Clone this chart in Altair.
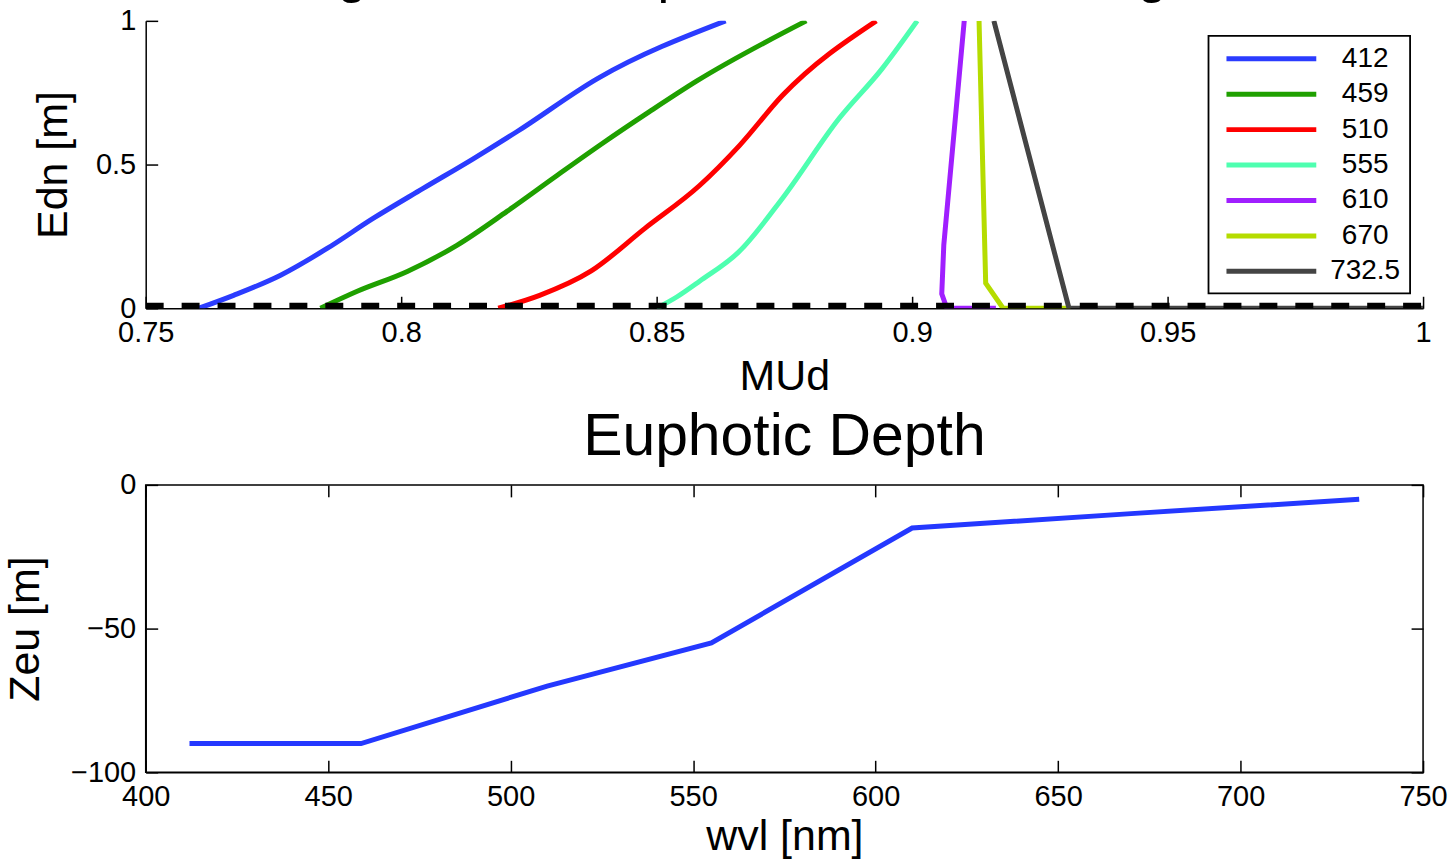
import altair as alt
import pandas as pd

FONT = "Liberation Sans"

# ---------------- data ----------------
WAVELENGTHS = ["412", "459", "510", "555", "610", "670", "732.5"]
COLORS = ["#2b3cff", "#1fa000", "#ff0000", "#4effb0", "#a01fff", "#b5dc00", "#444444"]

MU_412 = [0.7604, 0.7672, 0.7764, 0.7855, 0.7945, 0.8043, 0.8141, 0.8227, 0.8385, 0.8635]
DEPTH_412 = [0.0, 0.045, 0.115, 0.208, 0.3125, 0.417, 0.52, 0.615, 0.80, 1.0]

MU_459 = [0.7842, 0.7914, 0.8012, 0.8109, 0.8207, 0.8305, 0.8395, 0.8486, 0.8578, 0.8793]
DEPTH_459 = [0.0, 0.059, 0.128, 0.219, 0.337, 0.462, 0.575, 0.684, 0.79, 1.0]

MU_510 = [0.8190, 0.8271, 0.8372, 0.8477, 0.8584, 0.8662, 0.8746, 0.8930]
DEPTH_510 = [0.0, 0.045, 0.13, 0.278, 0.427, 0.566, 0.74, 1.0]

MU_555 = [0.8500, 0.8540, 0.8584, 0.8662, 0.8746, 0.8857, 0.8941, 0.9010]
DEPTH_555 = [0.0, 0.04, 0.094, 0.198, 0.382, 0.66, 0.833, 1.0]

MU_610 = [0.9164, 0.9068, 0.9058, 0.9062, 0.9102]
DEPTH_610 = [0.0, 0.0, 0.05, 0.22, 1.0]

MU_670 = [0.9310, 0.9178, 0.9144, 0.9131]
DEPTH_670 = [0.0, 0.0, 0.087, 1.0]

MU_7325 = [1.0, 0.9307, 0.9160]
DEPTH_7325 = [0.0, 0.0, 1.0]

SERIES_MU = [MU_412, MU_459, MU_510, MU_555, MU_610, MU_670, MU_7325]
SERIES_DEPTH = [DEPTH_412, DEPTH_459, DEPTH_510, DEPTH_555, DEPTH_610, DEPTH_670, DEPTH_7325]
SMOOTH = ["412", "459", "510", "555"]

DASH_MU = [0.75, 1.0]
DASH_DEPTH = [0.0, 0.0]

MU_TICKS = [0.75, 0.8, 0.85, 0.9, 0.95, 1.0]
DEPTH_TICKS = [0.0, 0.5, 1.0]

WVL = [412, 459, 510, 555, 610, 670, 732.5]
ZEU = [-90, -90, -70, -55, -15, -10, -5]
WVL_TICKS = [400, 450, 500, 550, 600, 650, 700, 750]
ZEU_TICKS = [-100, -50, 0]

# ---------------- tables ----------------
rows = []
for wl, mus, deps in zip(WAVELENGTHS, SERIES_MU, SERIES_DEPTH):
    for i, (m, d) in enumerate(zip(mus, deps)):
        rows.append({"wl": wl, "i": i, "mu": m, "depth": d})
top_df = pd.DataFrame(rows)
smooth_df = top_df[top_df["wl"].isin(SMOOTH)]
sharp_df = top_df[~top_df["wl"].isin(SMOOTH)]
dash_df = pd.DataFrame({"mu": DASH_MU, "depth": DASH_DEPTH})
leg_df = pd.DataFrame({"wl": WAVELENGTHS})
box_df = pd.DataFrame({"k": [0]})
bot_df = pd.DataFrame({"wvl": WVL, "zeu": ZEU})

TICK = 12
LBL = 29
TTL = 43

def main_axis(orient, values, title, title_pad):
    return alt.Axis(orient=orient, values=values, title=title, ticks=False, domain=True,
                    domainColor="black", domainWidth=1.5, labelFontSize=LBL, titleFontSize=TTL,
                    labelFont=FONT, titleFont=FONT, titleFontWeight="normal", labelColor="black",
                    titleColor="black", labelFlush=False, labelOverlap=False, grid=False,
                    labelPadding=10, titlePadding=title_pad,
                    labelExpr="format(datum.value, '~g')")

def tick_axis(orient, values):
    return alt.Axis(orient=orient, values=values, title=None, ticks=True, tickSize=TICK,
                    tickColor="black", tickWidth=1.5, labels=False, domain=False,
                    grid=False, offset=-TICK)

xs_top = alt.Scale(domain=[0.75, 1.0], nice=False, zero=False)
ys_top = alt.Scale(domain=[0.0, 1.0], nice=False, zero=False)
cscale = alt.Scale(domain=WAVELENGTHS, range=COLORS)

lines_smooth = alt.Chart(smooth_df).mark_line(strokeWidth=5, clip=True, interpolate="monotone").encode(
    x=alt.X("mu:Q", scale=xs_top, axis=main_axis("bottom", MU_TICKS, "MUd", 8)),
    y=alt.Y("depth:Q", scale=ys_top, axis=main_axis("left", DEPTH_TICKS, "Edn [m]", 20)),
    color=alt.Color("wl:N", scale=cscale, legend=None),
    order=alt.Order("i:Q"),
)
lines_sharp = alt.Chart(sharp_df).mark_line(strokeWidth=5, clip=True).encode(
    x=alt.X("mu:Q", scale=xs_top, axis=None),
    y=alt.Y("depth:Q", scale=ys_top, axis=None),
    color=alt.Color("wl:N", scale=cscale, legend=None),
    order=alt.Order("i:Q"),
)

dashed = alt.Chart(dash_df).mark_line(strokeWidth=11, color="black", strokeDash=[18, 18], clip=True).encode(
    x=alt.X("mu:Q", scale=xs_top, axis=None),
    y=alt.Y("depth:Q", scale=ys_top, axis=None),
)

ticks_top = alt.Chart(dash_df).mark_line(opacity=0).encode(
    x=alt.X("mu:Q", scale=xs_top, axis=tick_axis("bottom", MU_TICKS)),
    y=alt.Y("depth:Q", scale=ys_top, axis=tick_axis("left", DEPTH_TICKS)),
)

# hand-drawn legend box (MATLAB style)
leg_box = alt.Chart(box_df).mark_rect(fill="white", stroke="black", strokeWidth=1.8).encode(
    x=alt.value(1065), x2=alt.value(1267), y=alt.value(15), y2=alt.value(273),
)
leg_y = alt.Y("wl:N", scale=alt.Scale(type="point", domain=WAVELENGTHS, range=[38, 251], padding=0),
              axis=None)
leg_lines = alt.Chart(leg_df).mark_rule(strokeWidth=5).encode(
    x=alt.value(1083), x2=alt.value(1173), y=leg_y,
    color=alt.Color("wl:N", scale=cscale, legend=None),
)
leg_text = alt.Chart(leg_df).mark_text(fontSize=LBL - 1, font=FONT, color="black", align="center",
                                       baseline="middle").encode(
    x=alt.value(1222), y=leg_y, text="wl:N",
)

top = alt.layer(lines_smooth, lines_sharp, dashed, ticks_top, leg_box, leg_lines, leg_text).resolve_scale(
    y="independent").resolve_axis(x="independent", y="independent").properties(
    width=1280, height=288,
    title=alt.TitleParams("Average Cosine Depth at each Wavelength", fontSize=53, font=FONT,
                          fontWeight="normal", color="black", dx=-79, offset=4),
)

xs_bot = alt.Scale(domain=[400, 750], nice=False, zero=False)
ys_bot = alt.Scale(domain=[-100, 0], nice=False, zero=False)

zline = alt.Chart(bot_df).mark_line(strokeWidth=5, color="#2438ff").encode(
    x=alt.X("wvl:Q", scale=xs_bot, axis=main_axis("bottom", WVL_TICKS, "wvl [nm]", 4)),
    y=alt.Y("zeu:Q", scale=ys_bot, axis=main_axis("left", ZEU_TICKS, "Zeu [m]", 23)),
)
ticks_bl = alt.Chart(bot_df).mark_line(opacity=0).encode(
    x=alt.X("wvl:Q", scale=xs_bot, axis=tick_axis("bottom", WVL_TICKS)),
    y=alt.Y("zeu:Q", scale=ys_bot, axis=tick_axis("left", ZEU_TICKS)),
)
ticks_tr = alt.Chart(bot_df).mark_line(opacity=0).encode(
    x=alt.X("wvl:Q", scale=xs_bot, axis=tick_axis("top", WVL_TICKS)),
    y=alt.Y("zeu:Q", scale=ys_bot, axis=tick_axis("right", ZEU_TICKS)),
)

bottom = alt.layer(zline, ticks_bl, ticks_tr).resolve_axis(x="independent", y="independent").properties(
    width=1280, height=288,
    title=alt.TitleParams("Euphotic Depth", fontSize=59, font=FONT, fontWeight="normal",
                          color="black", offset=4),
    view=alt.ViewBackground(stroke="black", strokeWidth=1.5),
)

chart = alt.vconcat(top, bottom, spacing=9).configure(
    padding={"left": 3, "top": -51, "right": 5, "bottom": 0},
    background="white",
).configure_view(stroke=None)

chart.save("out.html", embed_options={"renderer": "svg", "actions": False})
